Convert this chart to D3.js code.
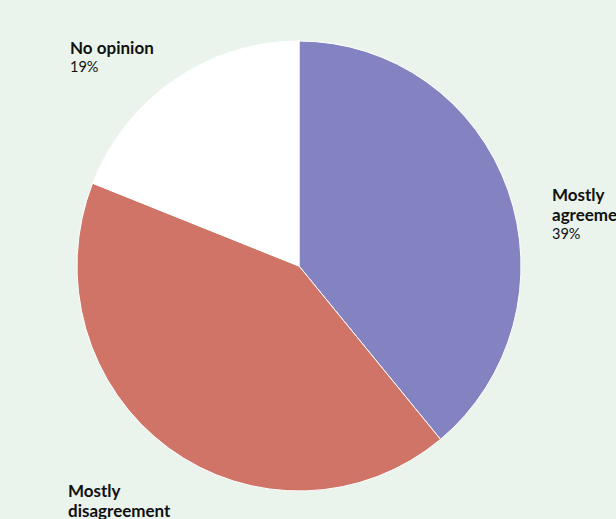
<!DOCTYPE html>
<html>
<head>
<meta charset="utf-8">
<script src="https://cdn.jsdelivr.net/npm/d3@7"></script>
<style>
  html, body { margin: 0; padding: 0; background: #eaf4ec; overflow: hidden; }
  svg { display: block; font-family: Lato, sans-serif; }
</style>
</head>
<body>
<svg id="chart" width="616" height="519"></svg>
<script>
// Survey responses, in clockwise order from 12 o'clock
const categories = ["Mostly agreement", "Mostly disagreement", "No opinion"];
const shares = [39, 42, 19];
const colors = ["#8383c2", "#d17468", "#ffffff"];
// Label lines for each slice (name split on wrap)
const labelLines = [["Mostly", "agreement"], ["Mostly", "disagreement"], ["No opinion"]];

const svg = d3.select("#chart");
const cx = 299, cy = 266, r = 222;

const pie = d3.pie().sort(null).value(d => d.value);
const arcs = pie(categories.map((c, i) => ({ name: c, value: shares[i], i })));
const arc = d3.arc().innerRadius(0).outerRadius(r);

// Pie is drawn very slightly taller than wide
const g = svg.append("g").attr("transform", `translate(${cx},${cy}) scale(1,1.0135)`);
g.selectAll("path")
  .data(arcs)
  .join("path")
  .attr("d", arc)
  .attr("fill", d => colors[d.data.i])
  .attr("stroke", "#ffffff")
  .attr("stroke-width", 1)
  .attr("vector-effect", "non-scaling-stroke");

// Label anchors placed outside the pie, per slice
const labelPos = [
  { x: 552, y: 201 },
  { x: 68, y: 497 },
  { x: 70, y: 54 }
];

arcs.forEach(d => {
  const i = d.data.i;
  const p = labelPos[i];
  const t = svg.append("g").attr("transform", `translate(${p.x},${p.y})`);
  labelLines[i].forEach((line, k) => {
    t.append("text")
      .attr("x", 0).attr("y", k * 20)
      .attr("font-size", 17).attr("font-weight", 700)
      .attr("fill", "#111")
      .text(line);
  });
  t.append("text")
    .attr("x", 0).attr("y", (labelLines[i].length - 1) * 20 + 18)
    .attr("font-size", 14.5)
    .attr("fill", "#111")
    .text(d.data.value + "%");
});
</script>
</body>
</html>
